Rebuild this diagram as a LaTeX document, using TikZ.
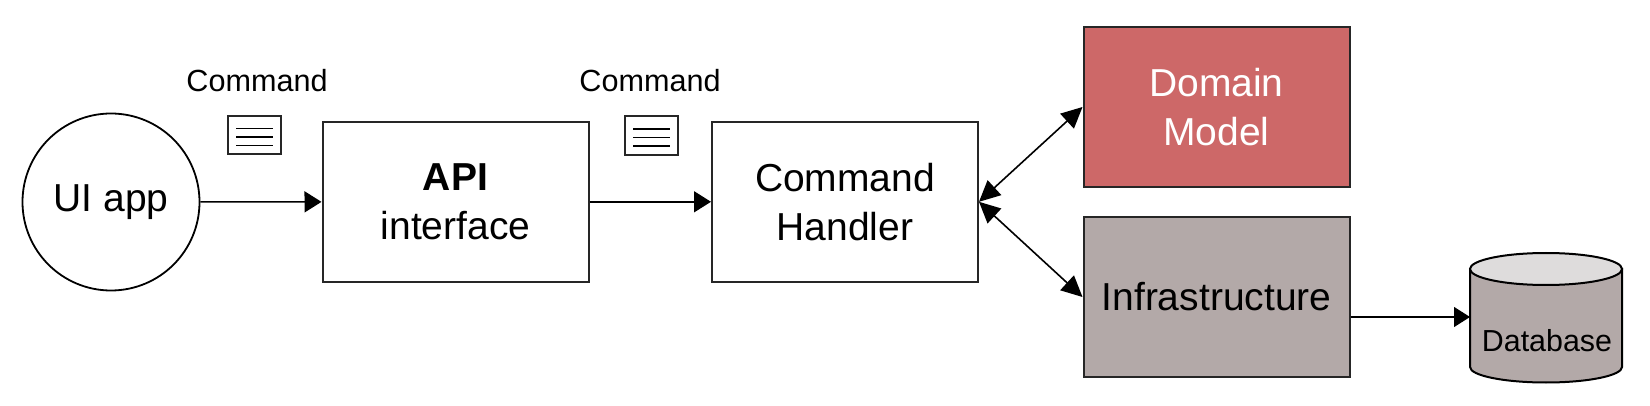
\documentclass[tikz,border=0pt]{standalone}
\usepackage{fontspec}
\setmainfont{Liberation Sans}
\usetikzlibrary{arrows.meta}
\definecolor{redbox}{HTML}{CD6868}
\definecolor{greybox}{HTML}{B3A9A8}
\definecolor{dbtop}{HTML}{DEDCDC}
\tikzset{
  x=1pt,y=-1pt,
  box/.style={draw=black!85,line width=2pt,minimum width=266pt,minimum height=160pt,inner sep=0pt,align=center,font=\fontsize{39}{49}\selectfont},
  doc/.style={draw=black!85,line width=1.6pt,minimum width=53pt,minimum height=38.5pt,inner sep=0pt},
  docline/.style={line width=1.5pt},
  conn/.style={line width=1.6pt,-{Triangle[length=17pt,width=21pt]}},
  thinconn/.style={line width=1.1pt,-{Triangle[length=16pt,width=20pt]}},
  biconn/.style={line width=1.6pt,{Triangle[length=21pt,width=20pt]}-{Triangle[length=21pt,width=20pt]}},
  cmd/.style={font=\fontsize{30.6}{34}\selectfont,inner sep=0pt,anchor=base},
  dbline/.style={line width=2pt,draw=black},
}
\begin{document}
\begin{tikzpicture}
\useasboundingbox (0,0) rectangle (1650,406);
\node[draw=black,line width=1.8pt,circle,minimum size=177pt,inner sep=0pt,font=\fontsize{39}{49}\selectfont] (ui) at (111,202) {UI app};
\node[box] (api) at (455.5,201.8) {\textbf{API}\\interface};
\node[box] (ch) at (845,201.8) {Command\\Handler};
\node[box,fill=redbox,text=white] (dm) at (1216.5,107) {Domain\\Model};
\node[box,fill=greybox] (inf) at (1216.5,297) {Infrastructure};
% database cylinder
\path[dbline,fill=greybox] (1470,269) -- (1470,367) arc[start angle=180,end angle=360,x radius=76pt,y radius=15.5pt] -- (1622,269) -- cycle;
\draw[dbline,fill=dbtop] (1546,269) ellipse [x radius=76pt,y radius=16pt];
\coordinate (dbw) at (1470,317);
\node[font=\fontsize{30.4}{34}\selectfont,inner sep=0pt,anchor=base] (dbl) at (1547,351) {Database};
\node[cmd] (c1) at (257,92) {Command};
\node[cmd] (c2) at (650,92) {Command};
\node[doc] (d1) at (254.5,135) {};
\node[doc] (d2) at (651.5,135.5) {};
\foreach \d in {d1,d2}{
  \foreach \yy in {-8.5,0,8.5}{
    \draw[docline] ([xshift=-18.5pt,yshift=\yy pt-2pt]\d.center) -- ([xshift=18.5pt,yshift=\yy pt-2pt]\d.center);
  }
}
\draw[conn] (ui) -- (api);
\draw[conn] (api) -- (ch);
\draw[biconn] (ch.east) -- (dm.west);
\draw[biconn] (ch.east) -- (inf.west);
\draw[thinconn] (inf.east |- dbw) -- (dbw);
\end{tikzpicture}
\end{document}
